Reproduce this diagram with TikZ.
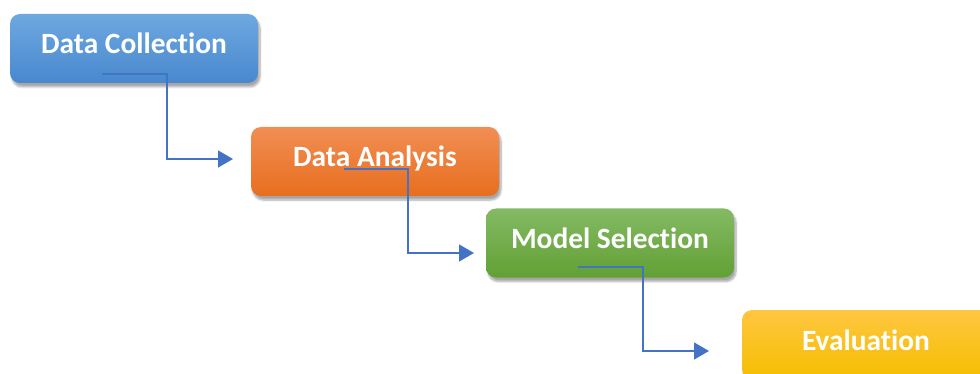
\documentclass[tikz,border=0pt]{standalone}
\usepackage{fontspec}
\setmainfont{Carlito}[Ligatures={NoCommon}]
\usetikzlibrary{arrows.meta,shadows.blur}

\definecolor{blueTop}{RGB}{110,168,224}
\definecolor{blueBot}{RGB}{72,136,206}
\definecolor{orangeTop}{RGB}{241,142,84}
\definecolor{orangeBot}{RGB}{232,110,30}
\definecolor{greenTop}{RGB}{132,186,100}
\definecolor{greenBot}{RGB}{98,160,52}
\definecolor{goldTop}{RGB}{255,198,64}
\definecolor{goldBot}{RGB}{244,190,0}
\definecolor{linkBlue}{RGB}{68,114,196}

\tikzset{
  stagebox/.style={rectangle, rounded corners=10pt, minimum width=248pt,
    minimum height=69pt, inner sep=0pt,
    blur shadow={shadow xshift=2pt, shadow yshift=-4pt, shadow blur steps=8, shadow opacity=35}},
  stagetext/.style={text=white, font=\fontsize{29.4}{32}\selectfont\bfseries, inner sep=0pt, anchor=base},
  link/.style={draw=linkBlue, line width=1.3pt, -{Triangle[length=15pt,width=17pt]}},
}

\begin{document}
\begin{tikzpicture}[x=1pt,y=-1pt]
  \useasboundingbox (0,0) rectangle (980,374);

  % stage boxes
  \node[stagebox, top color=blueTop, bottom color=blueBot]     (dc) at (134,48.5)  {};
  \node[stagebox, top color=orangeTop, bottom color=orangeBot] (da) at (375,161.5) {};
  \node[stagebox, top color=greenTop, bottom color=greenBot]   (ms) at (610,243)   {};
  \node[stagebox, top color=goldTop, bottom color=goldBot]     (ev) at (866,344.5) {};

  % labels
  \node[stagetext] (tdc) at ([yshift=-5.5pt]dc.center) {Data Collection};
  \node[stagetext] (tda) at ([yshift=-5.5pt]da.center) {Data Analysis};
  \node[stagetext] (tms) at ([yshift=-5.5pt]ms.center) {Model Selection};
  \node[stagetext] (tev) at ([yshift=-5.5pt]ev.center) {Evaluation};

  % elbow connector end points
  \coordinate (s1) at (102,74);
  \coordinate (e1) at (233,159);
  \coordinate (s2) at (344,169);
  \coordinate (e2) at (474,253);
  \coordinate (s3) at (578,267);
  \coordinate (e3) at (709,351);

  \draw[link] (s1) -- (167,74) |- (e1);
  \draw[link] (s2) -- (408,169) |- (e2);
  \draw[link] (s3) -- (643,267) |- (e3);
\end{tikzpicture}
\end{document}
